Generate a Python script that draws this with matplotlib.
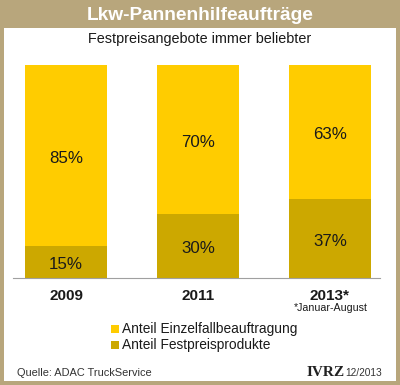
import matplotlib.pyplot as plt
import matplotlib.patches as mpatches
import numpy as np

years = ['2009', '2011', '2013*']
einzelfall = [85, 70, 63]
festpreis = [15, 30, 37]

COLORS = {
    'frame': '#B8A67C',
    'yellow': '#FFCC00',
    'dark': '#CCA800',
    'text': '#1A1A1A',
    'axis': '#A0A0A0',
}

plt.rcParams['font.family'] = ['Liberation Sans', 'DejaVu Sans']

W, H = 400, 385
fig = plt.figure(figsize=(W / 100, H / 100), dpi=100)
fig.patch.set_facecolor(COLORS['frame'])

def px(x, y):
    return x / W, 1 - y / H

# white panel
fig.patches.append(mpatches.Rectangle((4 / W, 1 - 381 / H), 392 / W, 353 / H,
                                      transform=fig.transFigure, facecolor='white',
                                      edgecolor='none', zorder=-5))

fig.text(*px(200, 15), 'Lkw-Pannenhilfeaufträge', color='white', fontsize=13.8,
         fontweight='bold', ha='center', va='center')
fig.text(*px(200, 39), 'Festpreisangebote immer beliebter', color=COLORS['text'],
         fontsize=10.4, ha='center', va='center')

# bar axes: baseline y=278, 100% at y=65, x from 13 to 380
ax = fig.add_axes([13 / W, 1 - 278 / H, 367 / W, 213 / H], zorder=2)
ax.set_facecolor('none')
x = np.arange(len(years))
ax.set_xlim((13 - 66) / 132, (380 - 66) / 132)
ax.set_ylim(0, 100)
width = 82 / 132
ax.bar(x, festpreis, width, color=COLORS['dark'], edgecolor='none')
ax.bar(x, einzelfall, width, bottom=festpreis, color=COLORS['yellow'], edgecolor='none')
for i in range(len(years)):
    ax.text(x[i], festpreis[i] / 2 - 1.3, f'{festpreis[i]}%', ha='center', va='center',
            fontsize=12.2, color=COLORS['text'])
    ax.text(x[i], festpreis[i] + einzelfall[i] / 2 - 1.3, f'{einzelfall[i]}%', ha='center',
            va='center', fontsize=12.2, color=COLORS['text'])
    ax.text(x[i], -8.3, years[i], ha='center', va='center', fontsize=11,
            fontweight='bold', color=COLORS['text'], clip_on=False)
for s in ['top', 'right', 'left']:
    ax.spines[s].set_visible(False)
ax.spines['bottom'].set_color(COLORS['axis'])
ax.spines['bottom'].set_linewidth(0.8)
ax.set_xticks([])
ax.set_yticks([])

fig.text(*px(368, 308), '*Januar-August', fontsize=7.7, ha='right', va='center',
         color=COLORS['text'])

# legend
legend_items = [('Anteil Einzelfallbeauftragung', COLORS['yellow'], 329),
                ('Anteil Festpreisprodukte', COLORS['dark'], 345)]
for label, color, ypos in legend_items:
    fig.patches.append(mpatches.Rectangle((111 / W, 1 - (ypos + 3.5) / H), 7.5 / W, 7.5 / H,
                                          transform=fig.transFigure, facecolor=color,
                                          edgecolor='none'))
    fig.text(*px(122, ypos), label, fontsize=9.9, ha='left', va='center', color=COLORS['text'])

fig.text(*px(17, 373), 'Quelle: ADAC TruckService', fontsize=7.9, ha='left', va='center',
         color='#333333')
fig.text(*px(345, 373), 'IVRZ', fontsize=11, fontweight='bold', family='Liberation Serif',
         ha='right', va='center', color='#222222')
fig.text(*px(382, 373), '12/2013', fontsize=7.3, ha='right', va='center', color='#333333')

fig.savefig('out.png', dpi=100, facecolor=fig.get_facecolor())
